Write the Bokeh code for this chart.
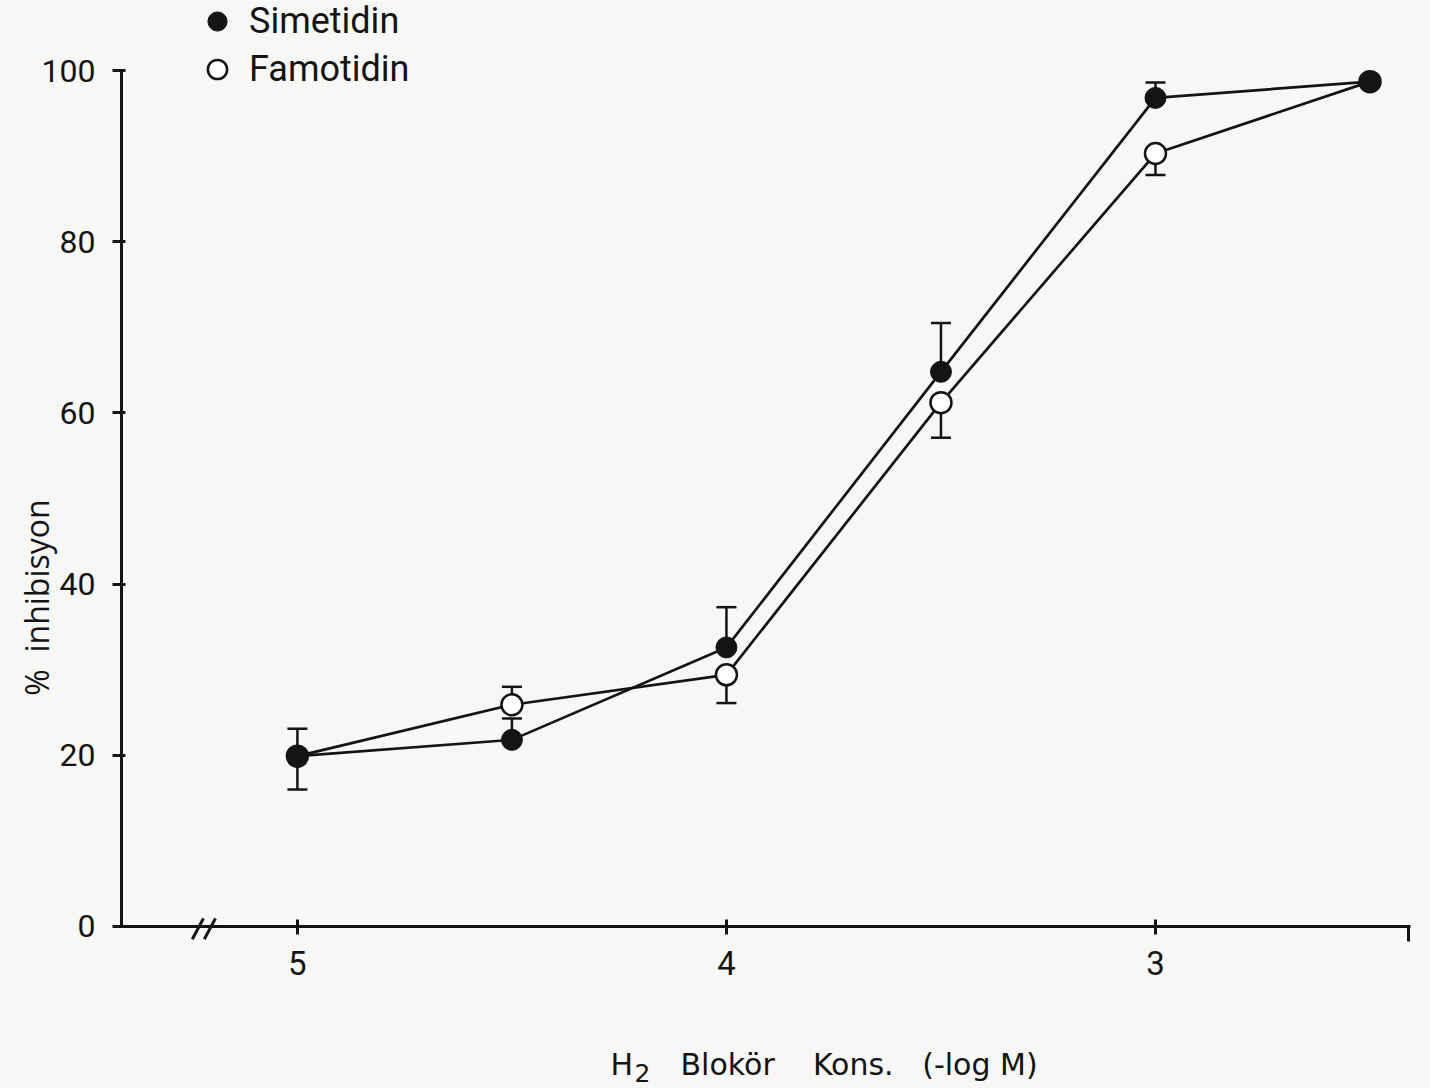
import math
from bokeh.plotting import figure
from bokeh.models import (ColumnDataSource, LinearAxis, FixedTicker, Range1d, Whisker,
                          TeeHead, Legend, LegendItem, Label)
from bokeh.core.properties import value
from bokeh.embed import file_html
from bokeh.resources import INLINE

# ---------------- data ----------------
conc = [5.0, 4.5, 4.0, 3.5, 3.0, 2.5]              # H2 blocker conc. (-log M)
simetidin = [19.9, 21.8, 32.6, 64.8, 96.8, 98.7]    # % inhibition
famotidin = [19.9, 25.9, 29.4, 61.2, 90.3, 98.7]
simetidin_err_up = [3.2, 2.5, 4.7, 5.7, 1.8, 0.0]
famotidin_err_lo = [3.9, 0.0, 3.3, 4.1, 2.5, 0.0]
famotidin_err_up = [0.0, 2.1, 0.0, 0.0, 0.0, 0.0]

x_ticks = [5, 4, 3]
y_ticks = [0, 20, 40, 60, 80, 100]
x_axis_left = 5.41
x_axis_right = 2.406
axis_break = 5.232

INK = "#141414"
BG = "#f7f7f5"
W, H = 1430, 1088

p = figure(width=W, height=H, output_backend="svg", toolbar_location=None,
           x_range=Range1d(5.692, 2.359), y_range=Range1d(-18.93, 108.18),
           x_axis_type=None, y_axis_type=None,
           min_border=0, min_border_left=0, min_border_right=0,
           min_border_top=0, min_border_bottom=0)
p.grid.visible = False
p.outline_line_color = None
p.background_fill_color = BG
p.border_fill_color = BG

# ---------------- axes ----------------
tick_font = "Roboto"
yaxis = LinearAxis(fixed_location=x_axis_left, bounds=(0, 100),
                   ticker=FixedTicker(ticks=y_ticks),
                   axis_line_width=3, axis_line_color=INK,
                   major_tick_in=4, major_tick_out=9, major_tick_line_width=3,
                   major_tick_line_color=INK, minor_tick_line_color=None,
                   major_label_standoff=17, major_label_text_font=tick_font,
                   major_label_text_font_size="32px", major_label_text_color=INK)
xaxis = LinearAxis(fixed_location=0, bounds=(x_axis_right, x_axis_left),
                   ticker=FixedTicker(ticks=x_ticks, minor_ticks=[x_axis_right + 0.004]),
                   axis_line_width=3, axis_line_color=INK,
                   major_tick_in=7, major_tick_out=8, major_tick_line_width=3,
                   major_tick_line_color=INK,
                   minor_tick_in=0, minor_tick_out=15, minor_tick_line_width=3,
                   minor_tick_line_color=INK,
                   major_label_standoff=10, major_label_text_font=tick_font,
                   major_label_text_font_size="33px", major_label_text_color=INK)
p.add_layout(yaxis, "left")
p.add_layout(xaxis, "below")

# axis break marks "//"
p.segment(x0=[axis_break + 0.013, axis_break - 0.015], y0=[-1.5, -1.5],
          x1=[axis_break - 0.013, axis_break - 0.041], y1=[0.95, 0.95],
          line_width=3, line_color=INK)

# ---------------- error bars ----------------
def whisker_source(vals, errs, sign):
    base, lo, up = [], [], []
    for c, v, e in zip(conc, vals, errs):
        if e > 0:
            base.append(c)
            if sign > 0:
                lo.append(v); up.append(v + e)
            else:
                lo.append(v - e); up.append(v)
    return ColumnDataSource(dict(base=base, lower=lo, upper=up))

def tee():
    return TeeHead(size=20, line_width=2.5, line_color=INK)

w1 = Whisker(source=whisker_source(simetidin, simetidin_err_up, +1), base="base",
             lower="lower", upper="upper", dimension="height",
             upper_head=tee(), lower_head=None, line_width=2.5, line_color=INK)
w2 = Whisker(source=whisker_source(famotidin, famotidin_err_lo, -1), base="base",
             lower="lower", upper="upper", dimension="height",
             upper_head=None, lower_head=tee(), line_width=2.5, line_color=INK)
w3 = Whisker(source=whisker_source(famotidin, famotidin_err_up, +1), base="base",
             lower="lower", upper="upper", dimension="height",
             upper_head=tee(), lower_head=None, line_width=2.5, line_color=INK)
for w in (w1, w2, w3):
    p.add_layout(w)

# ---------------- series ----------------
src = ColumnDataSource(dict(conc=conc, sim=simetidin, fam=famotidin))
p.line("conc", "sim", source=src, line_width=2.7, line_color=INK)
p.line("conc", "fam", source=src, line_width=2.7, line_color=INK)
r_fam = p.scatter("conc", "fam", source=src, size=21, marker="circle",
                  fill_color="white", line_color=INK, line_width=2.5)
r_sim = p.scatter("conc", "sim", source=src, size=21, marker="circle",
                  fill_color=INK, line_color=INK, line_width=1)

# ---------------- legend ----------------
legend = Legend(items=[LegendItem(label=value("Simetidin"), renderers=[r_sim]),
                       LegendItem(label=value("Famotidin"), renderers=[r_fam])],
                location=(191, H - 93), orientation="vertical",
                glyph_width=52, glyph_height=48, label_height=48, spacing=0,
                padding=0, margin=0, label_standoff=6,
                label_text_font="Roboto", label_text_font_size="36px",
                label_text_color=INK, border_line_color=None,
                background_fill_alpha=0)
p.add_layout(legend)

# ---------------- axis titles ----------------
nb = "\u00a0"
title_font = "DejaVu Sans"
x_title_h = Label(x=610, y=24, x_units="screen", y_units="screen", text="H",
                  text_font=title_font, text_font_size="30px", text_color=INK,
                  text_align="left", text_baseline="alphabetic")
x_title_sub = Label(x=634, y=16, x_units="screen", y_units="screen", text="2",
                    text_font=title_font, text_font_size="25px", text_color=INK,
                    text_align="left", text_baseline="alphabetic")
x_title_rest = Label(x=680, y=24, x_units="screen", y_units="screen",
                     text="Blokör" + nb * 4 + "Kons." + nb * 3 + "(-log M)",
                     text_font=title_font, text_font_size="30px", text_color=INK,
                     text_align="left", text_baseline="alphabetic")
ylabel = Label(x=36, y=H - 597, x_units="screen", y_units="screen",
               text="%" + nb * 2 + "inhibisyon", angle=math.pi / 2,
               text_font="Open Sans", text_font_size="32px", text_color=INK,
               text_align="center", text_baseline="alphabetic")
for lab in (x_title_h, x_title_sub, x_title_rest, ylabel):
    p.add_layout(lab)

open("out.html", "w").write(file_html(p, INLINE))
